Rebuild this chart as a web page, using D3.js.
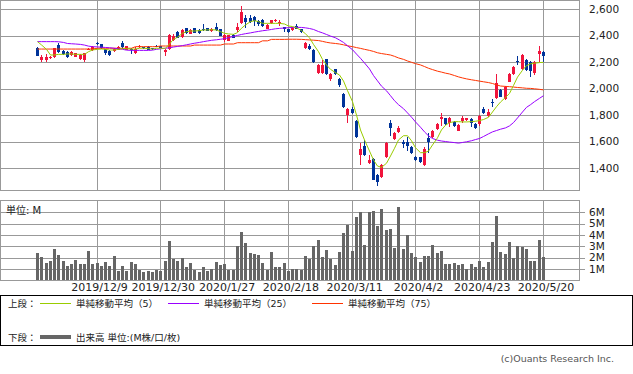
<!doctype html>
<html>
<head>
<meta charset="utf-8">
<script src="https://d3js.org/d3.v7.min.js"></script>
<style>
  body { margin: 0; background: #fff; }
  text { font-family: "DejaVu Sans", "Noto Sans CJK JP", sans-serif; }
</style>
</head>
<body>
<svg width="633" height="374"></svg>
<script>
// tick labels (trading-day index of each label)
var tickIdx = [14, 29, 44, 59, 74, 89, 104, 119];
var tickLabels = ["2019/12/9", "2019/12/30", "2020/1/27", "2020/2/18", "2020/3/11", "2020/4/2", "2020/4/23", "2020/5/20"];
var priceTicks = [1400, 1600, 1800, 2000, 2200, 2400, 2600];
var volTicks = [1, 2, 3, 4, 5, 6];

// daily candles
var open = [2310,2218,2220,2232,2243,2331,2288,2280,2255,2243,
  2225,2218,2296,2293,2345,2336,2298,2288,2285,2293,
  2348,2296,2302,2268,2316,2312,2318,2305,2326,2320,
  2276,2298,2368,2431,2389,2456,2413,2456,2443,2452,
  2456,2438,2463,2449,2368,2364,2403,2444,2494,2537,
  2537,2545,2509,2517,2454,2494,2515,2503,2469,2451,
  2443,2477,2448,2311,2326,2293,2117,2117,2223,2077,
  2147,2074,1961,1802,1845,1760,1500,1568,1437,1470,
  1350,1337,1488,1745,1619,1672,1601,1601,1563,1488,
  1483,1425,1626,1639,1697,1770,1777,1745,1750,1684,
  1760,1765,1772,1735,1735,1845,1795,1898,1928,1991,
  1920,2054,2112,2213,2147,2218,2205,2122,2263,2275];
var close = [2248,2242,2240,2238,2306,2280,2263,2243,2278,2268,
  2255,2268,2300,2318,2341,2306,2268,2255,2300,2318,
  2313,2320,2295,2301,2320,2308,2293,2298,2322,2310,
  2293,2406,2398,2386,2444,2419,2443,2423,2419,2448,
  2438,2451,2443,2399,2406,2403,2386,2469,2577,2507,
  2507,2515,2487,2477,2482,2517,2519,2507,2451,2426,
  2461,2453,2429,2348,2301,2200,2180,2180,2112,2112,
  2112,2029,1860,1845,1815,1634,1543,1500,1463,1312,
  1300,1425,1589,1707,1669,1707,1581,1568,1513,1463,
  1450,1543,1601,1682,1735,1790,1732,1777,1720,1727,
  1777,1777,1740,1702,1797,1815,1828,1893,2041,1941,
  2016,2112,2167,2205,2255,2142,2137,2205,2285,2248];
var high = [2316,2255,2262,2250,2310,2342,2294,2284,2282,2272,
  2260,2272,2306,2322,2356,2340,2302,2296,2305,2322,
  2362,2325,2310,2318,2330,2316,2322,2310,2332,2325,
  2298,2410,2412,2440,2448,2460,2448,2460,2448,2490,
  2460,2460,2497,2452,2412,2408,2416,2494,2625,2557,
  2557,2550,2517,2525,2486,2522,2530,2520,2470,2455,
  2466,2486,2452,2352,2335,2298,2186,2218,2228,2117,
  2152,2080,1970,1855,1865,1765,1588,1612,1500,1475,
  1355,1430,1595,1765,1675,1720,1614,1640,1568,1492,
  1488,1560,1665,1690,1740,1815,1782,1790,1755,1732,
  1795,1782,1777,1740,1802,1860,1845,1920,2110,1998,
  2022,2118,2172,2248,2262,2225,2212,2212,2323,2285];
var low = [2244,2202,2202,2222,2236,2272,2258,2234,2250,2238,
  2220,2205,2290,2288,2330,2300,2256,2244,2280,2290,
  2300,2292,2262,2260,2310,2302,2290,2294,2318,2305,
  2250,2295,2362,2380,2385,2414,2410,2418,2414,2440,
  2434,2425,2436,2395,2350,2358,2380,2426,2488,2460,
  2500,2475,2475,2470,2450,2490,2505,2475,2426,2420,
  2438,2448,2424,2304,2296,2196,2112,2112,2106,2060,
  2106,2012,1855,1740,1810,1628,1425,1495,1430,1308,
  1267,1330,1480,1645,1612,1668,1550,1530,1505,1456,
  1442,1420,1515,1632,1690,1720,1726,1712,1714,1678,
  1740,1760,1712,1696,1720,1810,1790,1860,1922,1935,
  1914,2048,2106,2180,2140,2136,2092,2105,2200,2205];

// volume (millions)
var volume = [2.44,2.06,1.56,1.71,2.76,2.24,1.71,1.29,1.47,1.79,
  1.47,1.47,2.59,1.47,1.56,1.26,1.65,1.26,2.15,0.85,
  1.26,0.85,1.62,1.44,0.94,0.79,0.85,0.76,0.94,0.85,
  1.71,3.5,1.88,1.74,1.94,1.21,1.56,0.91,0.76,1.18,
  0.85,1.0,1.62,1.35,1.45,0.9,0.9,3.03,4.26,3.32,
  2.44,2.32,2.26,1.56,0.94,2.5,1.18,1.18,1.56,0.85,
  1.0,1.0,0.94,2.15,1.91,3.03,3.56,2.06,2.68,1.91,
  1.35,2.5,4.18,4.88,2.59,5.62,6.03,3.15,6.03,6.12,
  4.82,6.29,4.47,4.53,2.85,6.5,2.76,4.0,2.44,2.06,
  1.65,2.15,2.15,3.12,2.44,2.59,1.47,1.47,1.56,1.35,
  1.44,0.97,1.44,1.18,1.71,1.18,1.65,3.38,5.68,2.5,
  2.32,3.38,1.94,3.03,2.94,2.76,1.71,1.71,3.56,2.06];

// moving averages as drawn
var ma5 = [2356,2331,2298,2255,2255,2260,2260,2263,2263,2260,
  2260,2260,2280,2293,2298,2300,2298,2293,2293,2298,
  2303,2303,2300,2300,2306,2306,2303,2300,2306,2306,
  2306,2338,2374,2389,2419,2431,2436,2436,2439,2444,
  2444,2446,2444,2431,2419,2414,2411,2424,2457,2482,
  2507,2514,2507,2494,2494,2494,2494,2494,2489,2474,
  2470,2460,2440,2415,2385,2335,2280,2222,2180,2147,
  2122,2104,2059,1986,1903,1802,1689,1614,1530,1463,
  1417,1407,1438,1493,1551,1614,1646,1646,1608,1555,
  1518,1518,1530,1576,1630,1690,1725,1745,1752,1752,
  1750,1750,1752,1755,1760,1768,1785,1825,1865,1900,
  1935,1965,2025,2088,2140,2175,2188,2193,2198,2200];
var ma25 = [2356,2356,2356,2356,2356,2355,2350,2342,2340,2338,
  2335,2330,2322,2318,2316,2314,2312,2310,2306,2302,
  2298,2292,2290,2290,2290,2290,2290,2292,2298,2302,
  2306,2310,2315,2320,2326,2332,2338,2344,2350,2356,
  2361,2366,2370,2374,2378,2386,2395,2403,2410,2416,
  2422,2428,2433,2438,2443,2448,2453,2456,2459,2461,
  2463,2464,2463,2460,2455,2448,2432,2422,2410,2398,
  2385,2368,2350,2325,2295,2262,2230,2195,2150,2100,
  2060,2020,1985,1948,1910,1880,1850,1818,1786,1750,
  1710,1675,1645,1625,1612,1606,1602,1598,1594,1590,
  1595,1600,1608,1617,1625,1640,1660,1675,1685,1695,
  1705,1720,1745,1780,1825,1860,1880,1903,1928,1948];
var ma75 = [2300,2300,2300,2300,2300,2300,2300,2300,2300,2300,
  2300,2300,2300,2300,2306,2306,2306,2306,2306,2306,
  2306,2306,2306,2318,2318,2318,2318,2318,2318,2323,
  2323,2323,2323,2323,2323,2323,2323,2330,2330,2330,
  2330,2330,2330,2330,2338,2338,2338,2348,2348,2348,
  2348,2348,2348,2362,2362,2373,2373,2373,2373,2374,
  2374,2374,2373,2371,2369,2367,2364,2358,2351,2346,
  2342,2338,2332,2325,2318,2311,2305,2298,2290,2282,
  2272,2266,2260,2255,2245,2233,2222,2210,2200,2190,
  2180,2168,2155,2145,2133,2126,2118,2112,2100,2090,
  2082,2075,2068,2063,2058,2053,2047,2040,2030,2021,
  2018,2016,2013,2010,2007,2004,2003,2000,1996,1992];

var svg = d3.select("svg");
var gridColor = "#999999", upColor = "#f0143c", downColor = "#003399";

var x = d3.scaleLinear().domain([0, 119]).range([37, 543]);
var y = d3.scaleLinear().domain([1400, 2600]).range([168.3, 9.3]);
var yv = d3.scaleLinear().domain([0, 7]).range([280.5, 201]);
var px = function(i) { return Math.round(x(i)); };

var idx = d3.range(open.length);

// ---- upper panel
var upper = svg.append("g");
upper.append("g").selectAll("line").data(priceTicks).join("line")
  .attr("x1", 0).attr("x2", 579)
  .attr("y1", d => Math.round(y(d)) + 0.5).attr("y2", d => Math.round(y(d)) + 0.5)
  .attr("stroke", gridColor);
upper.append("g").selectAll("line").data(tickIdx).join("line")
  .attr("x1", d => px(d) + 0.5).attr("x2", d => px(d) + 0.5)
  .attr("y1", 0).attr("y2", 190)
  .attr("stroke", gridColor);
upper.append("rect").attr("x", 0.5).attr("y", 0.5).attr("width", 579).attr("height", 190)
  .attr("fill", "none").attr("stroke", gridColor);

upper.append("g").selectAll("text").data(priceTicks).join("text")
  .attr("x", 589).attr("y", d => y(d)).attr("dy", "0.35em")
  .attr("font-size", 10.5).attr("fill", "#222")
  .text(d => d3.format(",")(d));

// candles
var candles = upper.append("g").attr("shape-rendering", "crispEdges");
candles.selectAll("line").data(idx).join("line")
  .attr("x1", i => px(i) + 0.5).attr("x2", i => px(i) + 0.5)
  .attr("y1", i => y(high[i])).attr("y2", i => y(low[i]))
  .attr("stroke", i => close[i] >= open[i] ? upColor : downColor);
candles.selectAll("rect").data(idx).join("rect")
  .attr("x", i => px(i) - 1).attr("width", 3)
  .attr("y", i => y(Math.max(open[i], close[i])))
  .attr("height", i => Math.max(1, Math.abs(y(open[i]) - y(close[i]))))
  .attr("fill", i => close[i] >= open[i] ? upColor : downColor);

// moving averages
var maLine = function(arr) {
  return d3.line().x(i => px(i) + 0.5).y(i => y(arr[i]))(idx);
};
upper.append("path").attr("d", maLine(ma75)).attr("fill", "none").attr("stroke", "#ff3300").attr("stroke-width", 1);
upper.append("path").attr("d", maLine(ma25)).attr("fill", "none").attr("stroke", "#9900ff").attr("stroke-width", 1);
upper.append("path").attr("d", maLine(ma5)).attr("fill", "none").attr("stroke", "#99cc00").attr("stroke-width", 1);

// ---- volume panel
var lower = svg.append("g");
lower.append("g").selectAll("line").data(volTicks).join("line")
  .attr("x1", 0).attr("x2", 585)
  .attr("y1", d => Math.round(yv(d)) + 0.5).attr("y2", d => Math.round(yv(d)) + 0.5)
  .attr("stroke", gridColor);
lower.append("g").selectAll("line").data(tickIdx).join("line")
  .attr("x1", d => px(d) + 0.5).attr("x2", d => px(d) + 0.5)
  .attr("y1", 201).attr("y2", 280)
  .attr("stroke", gridColor);
lower.append("g").attr("shape-rendering", "crispEdges").selectAll("rect").data(idx).join("rect")
  .attr("x", i => px(i) - 1).attr("width", 3)
  .attr("y", i => Math.round(yv(volume[i])))
  .attr("height", i => 280 - Math.round(yv(volume[i])))
  .attr("fill", "#666666");
lower.append("rect").attr("x", 0.5).attr("y", 200.5).attr("width", 579).attr("height", 80)
  .attr("fill", "none").attr("stroke", gridColor);

lower.append("g").selectAll("text").data(volTicks).join("text")
  .attr("x", 589).attr("y", d => yv(d)).attr("dy", "0.35em")
  .attr("font-size", 10.5).attr("fill", "#222")
  .text(d => d + "M");
lower.append("text").attr("x", 6).attr("y", 213.5).attr("font-size", 10).attr("fill", "#222").text("単位: M");

// date labels
var xAxis = d3.axisBottom(x).tickValues(tickIdx)
  .tickFormat((d, k) => tickLabels[k]).tickSize(0).tickPadding(0);
var ax = svg.append("g").attr("transform", "translate(2.5,283)").call(xAxis);
ax.select(".domain").remove();
ax.selectAll("text").attr("font-size", 11).attr("fill", "#222")
  .attr("font-family", "DejaVu Sans").attr("dy", "0.71em");

// ---- legend
var leg = svg.append("g");
leg.append("rect").attr("x", 0.5).attr("y", 295.5).attr("width", 632).attr("height", 50)
  .attr("fill", "none").attr("stroke", "#000");
var fs = 9.5;
leg.append("text").attr("x", 8).attr("y", 307).attr("font-size", fs).attr("fill", "#222").text("上段：");
leg.append("text").attr("x", 8).attr("y", 340.5).attr("font-size", fs).attr("fill", "#222").text("下段：");
var items = [["#99cc00", 40, "単純移動平均（5）"], ["#9900ff", 168, "単純移動平均（25）"], ["#ff3300", 312, "単純移動平均（75）"]];
items.forEach(function(it) {
  leg.append("line").attr("x1", it[1]).attr("x2", it[1] + 31).attr("y1", 303.5).attr("y2", 303.5)
    .attr("stroke", it[0]).attr("stroke-width", 1);
  leg.append("text").attr("x", it[1] + 36).attr("y", 307).attr("font-size", fs).attr("fill", "#222").text(it[2]);
});
leg.append("line").attr("x1", 40).attr("x2", 71).attr("y1", 337).attr("y2", 337)
  .attr("stroke", "#666666").attr("stroke-width", 4);
leg.append("text").attr("x", 76).attr("y", 340.5).attr("font-size", fs).attr("fill", "#222").text("出来高 単位:(M株/口/枚)");

svg.append("text").attr("x", 614).attr("y", 361.5).attr("text-anchor", "end")
  .attr("font-size", 9.5).attr("fill", "#555").text("(c)Ouants Research Inc.");
</script>
</body>
</html>
